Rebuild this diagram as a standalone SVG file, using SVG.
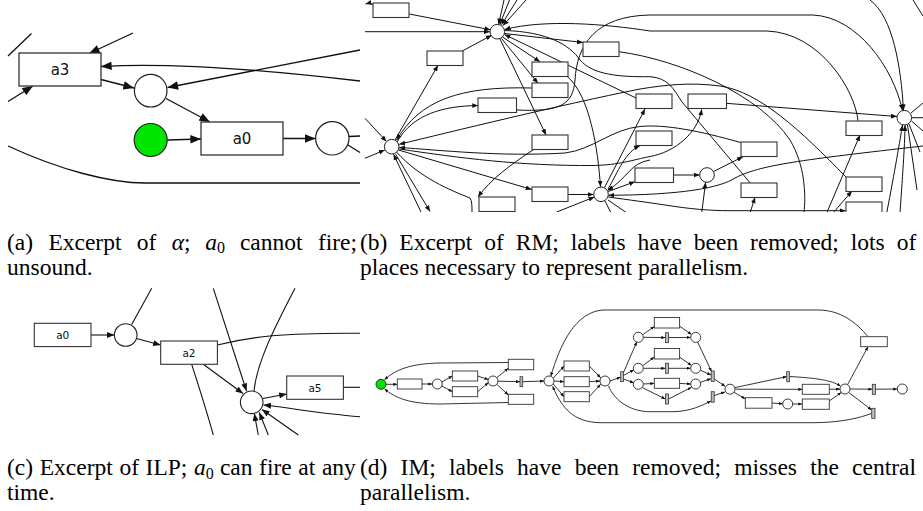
<svg xmlns="http://www.w3.org/2000/svg" width="923" height="511" viewBox="0 0 923 511">
<style>
.t{fill:#fff;stroke:#333;stroke-width:1.3}
.p{fill:#fff;stroke:#222;stroke-width:1.2}
.g{fill:#00e400;stroke:#222;stroke-width:1.2}
.tb{fill:#fff;stroke:#333;stroke-width:1.1}
.pb{fill:#fff;stroke:#222;stroke-width:1}
.td{fill:#fff;stroke:#333;stroke-width:0.9}
.pd{fill:#fff;stroke:#222;stroke-width:0.9}
.sd{fill:#bdbdbd;stroke:#333;stroke-width:0.8}
.ea{fill:none;stroke:#111;stroke-width:1.3}
.eb{fill:none;stroke:#111;stroke-width:1}
.ec{fill:none;stroke:#111;stroke-width:1.1}
.ed{fill:none;stroke:#111;stroke-width:0.85}
.aa{marker-end:url(#mA)}
.ab{marker-end:url(#mB)}
.ac{marker-end:url(#mC)}
.ad{marker-end:url(#mD)}
.lab{fill:#111;text-anchor:middle}
.cap{font-size:23.5px;fill:#000}
</style>
<defs>
<marker id="mA" viewBox="0 0 10 8" refX="10" refY="4" markerWidth="11" markerHeight="8.5" markerUnits="userSpaceOnUse" orient="auto"><path d="M0,0L10,4L0,8z" fill="#111"/></marker>
<marker id="mB" viewBox="0 0 10 8" refX="10" refY="4" markerWidth="6" markerHeight="5" markerUnits="userSpaceOnUse" orient="auto"><path d="M0,0L10,4L0,8z" fill="#111"/></marker>
<marker id="mC" viewBox="0 0 10 8" refX="10" refY="4" markerWidth="8" markerHeight="6" markerUnits="userSpaceOnUse" orient="auto"><path d="M0,0L10,4L0,8z" fill="#111"/></marker>
<marker id="mD" viewBox="0 0 10 8" refX="10" refY="4" markerWidth="4" markerHeight="3.2" markerUnits="userSpaceOnUse" orient="auto"><path d="M0,0L10,4L0,8z" fill="#111"/></marker>
<clipPath id="clipB"><rect x="360" y="0" width="563" height="212"/></clipPath>
</defs>

<!-- Panel (a) -->
<g id="panel-a">
<g id="a-edges">
<path class="ea aa" d="M101,79.5 L134,88"/>
<path class="ea aa" d="M166,98.5 L210,122"/>
<path class="ea aa" d="M167.5,140 L201,139"/>
<path class="ea aa" d="M283,138.5 L315.5,138.5"/>
<path class="ea aa" d="M360,50 L167.5,87.5"/>
<path class="ea aa" d="M360,81 C250,68 160,63 101,66.5"/>
<path class="ea aa" d="M133,33 L89,53.5"/>
<path class="ea" d="M8,56 L31.5,33.5"/>
<path class="ea aa" d="M8,101.5 L33,86"/>
<path class="ea" d="M349,136.5 L360,136"/>
<path class="ea" d="M348,145 L360,152.5"/>
<path class="ea" d="M8,146 C60,170 110,183 145,183 L360,183"/>
</g>
<g id="a-a3"><rect class="t" x="19" y="53" width="82" height="33"/><text class="lab" x="60" y="75" font-size="15" font-family="DejaVu Sans, sans-serif">a3</text></g>
<g id="a-p1"><circle class="p" cx="150.7" cy="90.7" r="16.3"/></g>
<g id="a-start"><circle class="g" cx="150.7" cy="140" r="16.5"/></g>
<g id="a-a0"><rect class="t" x="201" y="122" width="82" height="33"/><text class="lab" x="242" y="144" font-size="15" font-family="DejaVu Sans, sans-serif">a0</text></g>
<g id="a-p2"><circle class="p" cx="332.3" cy="138.3" r="16.7"/></g>
</g>

<!-- Panel (b) -->
<g id="panel-b" clip-path="url(#clipB)">
<g id="b-edges">
<path class="eb ab" d="M365,31.7 L490,31.7"/>
<path class="eb ab" d="M409.3,14 L490.5,29.8"/>
<path class="eb ab" d="M462.3,51 L491.8,35.2"/>
<path class="eb ab" d="M504,0 L498.5,24.6"/>
<path class="eb ab" d="M509.5,0 L499.8,24.5"/>
<path class="eb ab" d="M517,0 L501.5,24.8"/>
<path class="eb ab" d="M526,0 L503,25.6"/>
<path class="eb ab" d="M374,6 C371,3 369,3 365.5,4"/>
<path class="eb ab" d="M858,120.7 C855,90 820,33 767,31 L650,31 C605,24 545,19 504.6,29.5"/>
<path class="eb ab" d="M636,98 L504.5,34.5"/>
<path class="eb ab" d="M504.5,33.5 L583,42.5"/>
<path class="eb ab" d="M502.5,37 L540,61.7"/>
<path class="eb ab" d="M501.5,38.5 L538,83.3"/>
<path class="eb ab" d="M500,39 L546,135"/>
<path class="eb ab" d="M395,140 L438,65.3"/>
<path class="eb ab" d="M365,118.3 L386.5,141.5"/>
<path class="eb ab" d="M365,158.3 L384.8,150"/>
<path class="eb ab" d="M397,142 C413,114 443,106 478.3,105.5"/>
<path class="eb ab" d="M531.7,88 C460,86 420,100 396.5,140.2"/>
<path class="eb ab" d="M846,177 C800,130 760,92 720,86 C690,82 665,85 640,89 C560,105 450,132 399.2,144.3"/>
<path class="eb ab" d="M740.7,142.5 C700,131 665,124 640,126.5 C612,129 592,150 565,153 C500,157 440,150 399.3,147.5"/>
<path class="eb ab" d="M399.2,149 C460,158 520,166 593,165.5 C620,165 632,160 650,156.5 C675,152 698,133 701.7,109.3"/>
<path class="eb ab" d="M398.5,150 L531.7,189.5"/>
<path class="eb ab" d="M534,149.3 C510,165 490,180 478,197"/>
<path class="eb ab" d="M395.5,154 L430,211.5"/>
<path class="eb ab" d="M421,212 L393.5,154.3"/>
<path class="eb ab" d="M566.7,76 C590,95 598,150 600.5,186.8"/>
<path class="eb ab" d="M567.3,194.5 L593.6,194.5"/>
<path class="eb ab" d="M556.7,212 L594.5,197"/>
<path class="eb ab" d="M604.5,187.6 L645,109"/>
<path class="eb ab" d="M608,189 C618,172 625,152 640,145.7"/>
<path class="eb ab" d="M608.2,191.5 L635,181.7"/>
<path class="eb ab" d="M923,146 C800,160 760,165 735,178 C720,188 680,195 608.4,195.3"/>
<path class="eb ab" d="M608.2,197 C630,200 645,202 665,205 C690,209 710,210.7 730,210.7 L845.7,210.7"/>
<path class="eb ab" d="M650,160 C630,163 628,178 607.5,190.5"/>
<path class="eb ab" d="M516.7,110 C560,112 573,105 575,80 C577,45 595,16 650,15 L813,15 C857,17 893,67 902.5,110.5"/>
<path class="eb ab" d="M726,103.3 L897,116.5"/>
<path class="eb ab" d="M673.3,175 L699.7,175"/>
<path class="eb ab" d="M713.5,171.5 L743,156.7"/>
<path class="eb ab" d="M701.7,213 L705.6,182.3"/>
<path class="eb ab" d="M750,213 L755,197.3"/>
<path class="eb ab" d="M826.7,213 L860,135"/>
<path class="eb ab" d="M833,213 L852,191"/>
<path class="eb ab" d="M886.7,213 C895,170 900,140 902.5,125"/>
<path class="eb ab" d="M900,213 C903,170 905,140 905,125"/>
<path class="eb ab" d="M870,0 C893,17 901,67 903.5,110.4"/>
<path class="eb" d="M619,51.7 C680,60 760,95 790,140 C805,165 806,195 804,213"/>
<path class="eb" d="M504.5,30.5 C547,31.7 570,45 580,60 C593,75 620,77 650,76.7 C668,78 673,88 682,102 L750,182.7"/>
<path class="eb" d="M396.5,152 C420,178 450,190 470,198 C472,201 472,206 472,212"/>
<path class="eb" d="M605,201 L611,213"/>
<path class="eb" d="M608,200 L627,213"/>
<path class="eb" d="M911,113 L923,103"/>
<path class="eb" d="M912,117.7 L923,117.7"/>
<path class="eb" d="M911.5,121 L923,131"/>
<path class="eb" d="M909,124 L920,152"/>
<path class="eb" d="M907.5,125 L917,190"/>
<path class="eb" d="M913,0 L923,16"/>
</g>
<g id="b-t0"><rect class="tb" x="373" y="3" width="36" height="14.5"/></g>
<g id="b-t1"><rect class="tb" x="427" y="51" width="36" height="14.5"/></g>
<g id="b-t2"><rect class="tb" x="532" y="62" width="36" height="14.5"/></g>
<g id="b-t3"><rect class="tb" x="532" y="83" width="36" height="14.5"/></g>
<g id="b-t4"><rect class="tb" x="478" y="98" width="38.5" height="14.5"/></g>
<g id="b-t5"><rect class="tb" x="583" y="42" width="36" height="14.5"/></g>
<g id="b-t6"><rect class="tb" x="532" y="135" width="36" height="14.5"/></g>
<g id="b-t7"><rect class="tb" x="532" y="187" width="36" height="14.5"/></g>
<g id="b-t8"><rect class="tb" x="479" y="197" width="36" height="14.5"/></g>
<g id="b-t9"><rect class="tb" x="636" y="94" width="36" height="14.5"/></g>
<g id="b-t10"><rect class="tb" x="636" y="131" width="36" height="14.5"/></g>
<g id="b-t11"><rect class="tb" x="635" y="168" width="38.5" height="14.5"/></g>
<g id="b-t12"><rect class="tb" x="688" y="94" width="38.5" height="14.5"/></g>
<g id="b-t13"><rect class="tb" x="741" y="142" width="36" height="14.5"/></g>
<g id="b-t14"><rect class="tb" x="741" y="183" width="36" height="14.5"/></g>
<g id="b-t15"><rect class="tb" x="846" y="121" width="36" height="14.5"/></g>
<g id="b-t16"><rect class="tb" x="846" y="177" width="36" height="14.5"/></g>
<g id="b-t17"><rect class="tb" x="846" y="202" width="36" height="14.5"/></g>
<g id="b-p1"><circle class="pb" cx="497.3" cy="31.7" r="7.3"/></g>
<g id="b-p2"><circle class="pb" cx="391.7" cy="146.7" r="7.3"/></g>
<g id="b-p3"><circle class="pb" cx="601" cy="194.3" r="7.3"/></g>
<g id="b-p4"><circle class="pb" cx="707" cy="175" r="7.3"/></g>
<g id="b-p5"><circle class="pb" cx="904.3" cy="117.7" r="7.3"/></g>
</g>

<!-- Panel (c) -->
<g id="panel-c">
<g id="c-edges">
<path class="ec ac" d="M91,335 L114.3,335"/>
<path class="ec ac" d="M136.5,338.5 L160.7,345"/>
<path class="ec" d="M131.7,324.5 L151.7,288.3"/>
<path class="ec ac" d="M203.3,364.3 L243,393.5"/>
<path class="ec" d="M217.3,345 C250,336.7 283,332.7 360,333.3"/>
<path class="ec" d="M191.7,364.3 C200,390 207,412 213.3,435"/>
<path class="ec ac" d="M213.3,288.3 L246.5,391"/>
<path class="ec" d="M295,288.3 C273.3,330 256.7,363.3 254,391"/>
<path class="ec ac" d="M263,398.5 L286.7,394"/>
<path class="ec" d="M343.3,387.3 L360,387.3"/>
<path class="ec ac" d="M360,416.7 C316.7,413.3 283.3,406.7 263.5,405"/>
<path class="ec ac" d="M298.3,435 L262,409.5"/>
<path class="ec ac" d="M268.3,435 L259.3,412.5"/>
<path class="ec ac" d="M258.3,435 L254.3,413.5"/>
</g>
<g id="c-a0"><rect class="t" x="34.3" y="323.3" width="56.7" height="23.3" style="stroke-width:1.1"/><text class="lab" x="62.7" y="339" font-size="10.5" font-family="DejaVu Sans, sans-serif">a0</text></g>
<g id="c-p1"><circle class="p" cx="125.7" cy="335" r="11.3" style="stroke-width:1.1"/></g>
<g id="c-a2"><rect class="t" x="160.7" y="341" width="56.7" height="23.3" style="stroke-width:1.1"/><text class="lab" x="189" y="356.5" font-size="10.5" font-family="DejaVu Sans, sans-serif">a2</text></g>
<g id="c-p2"><circle class="p" cx="251.7" cy="402.3" r="11.3" style="stroke-width:1.1"/></g>
<g id="c-a5"><rect class="t" x="286.7" y="376" width="56.7" height="23.3" style="stroke-width:1.1"/><text class="lab" x="315" y="391.5" font-size="10.5" font-family="DejaVu Sans, sans-serif">a5</text></g>
</g>

<!-- Panel (d) -->
<g id="panel-d">
<g id="d-edges">
<path class="ed ad" d="M386,384.3 L397.3,384.3"/>
<path class="ed ad" d="M422,384 L432.3,384"/>
<path class="ed ad" d="M441.8,382 L452.3,376"/>
<path class="ed ad" d="M441.8,386 L452.3,391.7"/>
<path class="ed ad" d="M477.7,376 L488.4,379.6"/>
<path class="ed ad" d="M477.7,391.7 L488.4,382.6"/>
<path class="ed ad" d="M496.8,377.7 L508.3,368.3"/>
<path class="ed ad" d="M498,381.2 L520,381.7"/>
<path class="ed ad" d="M496.8,384.3 L508.3,395"/>
<path class="ed ad" d="M522.7,381.7 L544,381"/>
<path class="ed ad" d="M508.3,362.5 L440,363 C410,363.5 395,370 384.5,379.8"/>
<path class="ed ad" d="M508.3,402.5 L440,404 C410,404 395,398 384.5,388.8"/>
<path class="ed ad" d="M553.3,378.2 L564,366"/>
<path class="ed ad" d="M554,381 L564,381.7"/>
<path class="ed ad" d="M553.3,384 L564,396.7"/>
<path class="ed ad" d="M589.3,366 L600.7,377.8"/>
<path class="ed ad" d="M589.3,381.7 L600,381"/>
<path class="ed ad" d="M589.3,396.7 L600.7,384.2"/>
<path class="ed ad" d="M610,381 L620.7,377"/>
<path class="ed ad" d="M623.3,373 L636.8,341.8"/>
<path class="ed ad" d="M623.3,375.5 L634,369.8"/>
<path class="ed ad" d="M623.3,379 L633.8,382.8"/>
<path class="ed ad" d="M642.6,334.8 L654.3,326.5"/>
<path class="ed ad" d="M643.3,337.3 L665.3,337.6"/>
<path class="ed ad" d="M679.3,326 L691.6,334.5"/>
<path class="ed ad" d="M668.7,337.6 L690.7,337.4"/>
<path class="ed ad" d="M642.6,365.8 L654.3,357"/>
<path class="ed ad" d="M643.3,368.3 L665.3,368.3"/>
<path class="ed ad" d="M679.3,357 L691.6,365.5"/>
<path class="ed ad" d="M668.7,368.3 L690.7,368.3"/>
<path class="ed ad" d="M643.3,384 L654.3,383.4"/>
<path class="ed ad" d="M642.4,387.6 L665.3,399"/>
<path class="ed ad" d="M679.3,383.4 L690.7,384"/>
<path class="ed ad" d="M668.7,399 L691.5,387.3"/>
<path class="ed ad" d="M697.6,342 L711.5,371.5"/>
<path class="ed ad" d="M700.4,370.2 L711,375"/>
<path class="ed ad" d="M700.5,382.3 L711,378.7"/>
<path class="ed ad" d="M714.3,379 L725.2,386.3"/>
<path class="ed ad" d="M714.3,395.5 L725,392"/>
<path class="ed ad" d="M735,387.6 L786.7,376.6"/>
<path class="ed ad" d="M735.3,389.2 L802.3,389.3"/>
<path class="ed ad" d="M733.8,392.2 L745.3,398.8"/>
<path class="ed ad" d="M789.3,376.5 C815,378 832,380 840.5,386.2"/>
<path class="ed ad" d="M829.3,389.3 L840,389.1"/>
<path class="ed ad" d="M772,403 L782.7,403.8"/>
<path class="ed ad" d="M792.7,404 L802.3,404"/>
<path class="ed ad" d="M829.3,401 L841.3,392.4"/>
<path class="ed ad" d="M847.6,384.6 L868,346.7"/>
<path class="ed ad" d="M850,389 L872.3,389.2"/>
<path class="ed ad" d="M875.7,389.2 L897.3,389"/>
<path class="ed ad" d="M848.6,392.4 L871.7,410"/>
<path class="ed ad" d="M868,336.7 C856,322 840,310 818,310 L603,310 C575,312 560,345 550.8,376.2"/>
<path class="ed ad" d="M871.7,413.3 C860,418 840,422.7 813,422.7 L600,422.7 C573,422 562,408 552.6,386.3"/>
<path class="ed ad" d="M608.4,385.8 C615,402 632,411.7 650,411.7 L673,411.7 C690,411.7 703,405 711,401"/>
</g>
<g id="d-start"><circle class="g" cx="381" cy="384.3" r="5" style="stroke-width:0.9"/></g>
<g id="d-t1"><rect class="td" x="397.3" y="379" width="24.7" height="10"/></g>
<g id="d-p1"><circle class="pd" cx="437.3" cy="384" r="5"/></g>
<g id="d-t2"><rect class="td" x="452.3" y="371" width="25.4" height="10"/></g>
<g id="d-t3"><rect class="td" x="452.3" y="386.7" width="25.4" height="10"/></g>
<g id="d-p2"><circle class="pd" cx="493" cy="381" r="5"/></g>
<g id="d-t4"><rect class="td" x="508.3" y="359.3" width="25.4" height="10.5"/></g>
<g id="d-t5"><rect class="td" x="508.3" y="394.3" width="25.4" height="10"/></g>
<g id="d-s1"><rect class="sd" x="520" y="376.7" width="2.7" height="10"/></g>
<g id="d-p3"><circle class="pd" cx="549" cy="381" r="5"/></g>
<g id="d-t6"><rect class="td" x="564" y="361" width="25.3" height="10"/></g>
<g id="d-t7"><rect class="td" x="564" y="376.7" width="25.3" height="10"/></g>
<g id="d-t8"><rect class="td" x="564" y="391.7" width="25.3" height="10"/></g>
<g id="d-p4"><circle class="pd" cx="605" cy="381" r="5"/></g>
<g id="d-s2"><rect class="sd" x="620.7" y="371.7" width="2.7" height="10"/></g>
<g id="d-p5"><circle class="pd" cx="638.3" cy="337.3" r="5"/></g>
<g id="d-p6"><circle class="pd" cx="638.3" cy="368.3" r="5"/></g>
<g id="d-p7"><circle class="pd" cx="638.3" cy="384.3" r="5"/></g>
<g id="d-t9"><rect class="td" x="654.3" y="317.5" width="25.3" height="10.5"/></g>
<g id="d-s3"><rect class="sd" x="665.6" y="332.7" width="3" height="10"/></g>
<g id="d-p8"><circle class="pd" cx="695.7" cy="337.4" r="5"/></g>
<g id="d-t10"><rect class="td" x="654.3" y="348.5" width="25.3" height="10.5"/></g>
<g id="d-s4"><rect class="sd" x="665.6" y="363.3" width="3" height="10"/></g>
<g id="d-p9"><circle class="pd" cx="695.7" cy="368.3" r="5"/></g>
<g id="d-t11"><rect class="td" x="654.3" y="378.3" width="25.3" height="10"/></g>
<g id="d-p10"><circle class="pd" cx="695.7" cy="384" r="5"/></g>
<g id="d-s5"><rect class="sd" x="665.6" y="394" width="3" height="10"/></g>
<g id="d-s6"><rect class="sd" x="711.2" y="371" width="3" height="10.5"/></g>
<g id="d-s7"><rect class="sd" x="711.2" y="391.7" width="3" height="10.5"/></g>
<g id="d-p11"><circle class="pd" cx="730" cy="389.2" r="5"/></g>
<g id="d-s8"><rect class="sd" x="786.7" y="371.7" width="2.7" height="10"/></g>
<g id="d-t12"><rect class="td" x="802.3" y="384.3" width="27" height="10"/></g>
<g id="d-t13"><rect class="td" x="745.3" y="397.7" width="26.7" height="10.5"/></g>
<g id="d-p12"><circle class="pd" cx="787.7" cy="404" r="5"/></g>
<g id="d-t14"><rect class="td" x="802.3" y="399" width="27" height="10.3"/></g>
<g id="d-p13"><circle class="pd" cx="845" cy="389" r="5"/></g>
<g id="d-t15"><rect class="td" x="860.7" y="336.7" width="26.6" height="10"/></g>
<g id="d-s9"><rect class="sd" x="872.3" y="384.3" width="3.3" height="10"/></g>
<g id="d-p14"><circle class="pd" cx="902.3" cy="389" r="5"/></g>
<g id="d-s10"><rect class="sd" x="871.7" y="408.3" width="3.3" height="10"/></g>
</g>

<!-- Captions -->
<g id="captions" font-family="Liberation Serif, Times New Roman, serif">
<text class="cap" font-family="Liberation Serif, Times New Roman, serif"><tspan x="7" y="249.7">(a)</tspan><tspan x="48.4" y="249.7">Excerpt</tspan><tspan x="136.8" y="249.7">of</tspan><tspan x="171.7" y="249.7" font-style="italic">α</tspan><tspan>;</tspan><tspan x="205.3" y="249.7" font-style="italic">a</tspan><tspan y="253.3" font-size="16">0</tspan><tspan x="239.9" y="249.7">cannot</tspan><tspan x="317.9" y="249.7">fire;</tspan></text>
<text class="cap" font-family="Liberation Serif, Times New Roman, serif" y="249.7"><tspan x="360">(b)</tspan><tspan x="399.3">Excerpt</tspan><tspan x="484.3">of</tspan><tspan x="515.8">RM;</tspan><tspan x="570.8">labels</tspan><tspan x="637.5">have</tspan><tspan x="693.8">been</tspan><tspan x="750.1">removed;</tspan><tspan x="850.8">lots</tspan><tspan x="896.7">of</tspan></text>
<text class="cap" font-family="Liberation Serif, Times New Roman, serif" x="7" y="274.7">unsound.</text>
<text class="cap" font-family="Liberation Serif, Times New Roman, serif" x="360" y="274.7">places necessary to represent parallelism.</text>
<text class="cap" font-family="Liberation Serif, Times New Roman, serif"><tspan x="7" y="475">(c)</tspan><tspan x="39.7" y="475">Excerpt</tspan><tspan x="119.4" y="475">of</tspan><tspan x="145.6" y="475">ILP;</tspan><tspan x="194" y="475" font-style="italic">a</tspan><tspan y="478.6" font-size="16">0</tspan><tspan x="219.9" y="475">can</tspan><tspan x="259.1" y="475">fire</tspan><tspan x="298.3" y="475">at</tspan><tspan x="321.9" y="475">any</tspan></text>
<text class="cap" font-family="Liberation Serif, Times New Roman, serif" y="475"><tspan x="360">(d)</tspan><tspan x="400.6">IM;</tspan><tspan x="449.1">labels</tspan><tspan x="517.1">have</tspan><tspan x="574.7">been</tspan><tspan x="632.3">removed;</tspan><tspan x="734.3">misses</tspan><tspan x="810.2">the</tspan><tspan x="852.1">central</tspan></text>
<text class="cap" font-family="Liberation Serif, Times New Roman, serif" x="7" y="500">time.</text>
<text class="cap" font-family="Liberation Serif, Times New Roman, serif" x="360" y="500">parallelism.</text>
</g>
</svg>
